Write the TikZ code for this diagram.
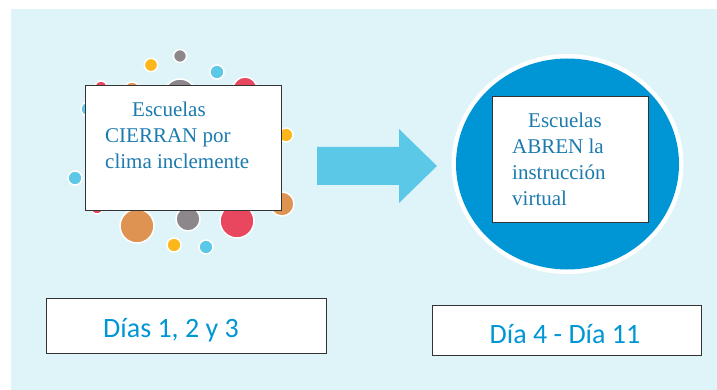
\documentclass[tikz,border=0pt]{standalone}
\usepackage{fontspec}
\setmainfont{Liberation Serif}
\newfontfamily\carlito{Carlito}
\usepackage{tikz}
\usetikzlibrary{calc}
\usetikzlibrary{positioning}
\definecolor{fondo}{HTML}{DFF4F9}
\definecolor{azulc}{HTML}{0096D6}
\definecolor{celeste}{HTML}{5BC8E8}
\definecolor{rojo}{HTML}{E8475F}
\definecolor{amarillo}{HTML}{FDB71A}
\definecolor{gris}{HTML}{8B878B}
\definecolor{naranja}{HTML}{DE9352}
\definecolor{textoazul}{HTML}{1B7BAE}
\tikzstyle{caja} = [draw=black!80, line width=1.3pt, fill=white, inner sep=0, anchor=north west]
\tikzstyle{burbuja} = [draw=white, line width=1.5pt]
\tikzstyle{serif} = [font=\fontsize{21}{26}\selectfont, text=textoazul, align=left, inner sep=0, anchor=north west]
\tikzstyle{dias} = [font=\carlito\fontsize{28}{32}\selectfont, text=azulc, inner sep=0, anchor=base]

\begin{document}
\begin{tikzpicture}[x=1pt, y=-1pt]
\useasboundingbox (0,0) rectangle (717,390);
\fill [fondo] (11,9) rectangle (717,390);
% burbujas
\foreach \x/\y/\r/\c in {180/56/6.5/gris, 151/65/6.7/amarillo, 217/72/7/celeste,
  101/87/6/rojo, 132/90/8/naranja, 180/95/16/gris, 245/89/12/rojo, 88/109/7/celeste,
  286/135/7/amarillo, 75/178/7/celeste, 282/204/12/naranja, 97/208/6/rojo,
  137/226/17/naranja, 188/219/12/gris, 237/221/17/rojo, 174/245/7/amarillo, 206/247/7/celeste}
  \filldraw [burbuja, fill=\c] (\x,\y) circle (\r pt);
\node [caja, minimum width=196pt, minimum height=125pt] (C1) at (85,85) {};
\node [serif] (T1) at (105,101.7) {\hspace*{27pt}Escuelas\\CIERRAN por\\clima inclemente};
% flecha
\fill [celeste] (317,147) -- (399,147) -- (399,129) -- (437,166) -- (399,203) -- (399,185) -- (317,185) -- cycle;
% circulo
\fill [white] (567.5,164) ellipse [x radius=116pt, y radius=110pt];
\fill [azulc] (567.5,164) ellipse [x radius=111.5pt, y radius=105.5pt];
\node [caja, minimum width=156pt, minimum height=126pt] (C2) at (492,96) {};
\node [serif] (T2) at (512,112.7) {\hspace*{16pt}Escuelas\\ABREN la\\instrucción\\virtual};
% dias
\node [caja, minimum width=280pt, minimum height=55pt] (D1) at (46,298) {};
\node [dias] (L1) at (171,337) {Días 1, 2 y 3};
\node [caja, minimum width=269pt, minimum height=50pt] (D2) at (432,305) {};
\node [dias] (L2) at (565,343) {Día 4 - Día 11};
\end{tikzpicture}
\end{document}
